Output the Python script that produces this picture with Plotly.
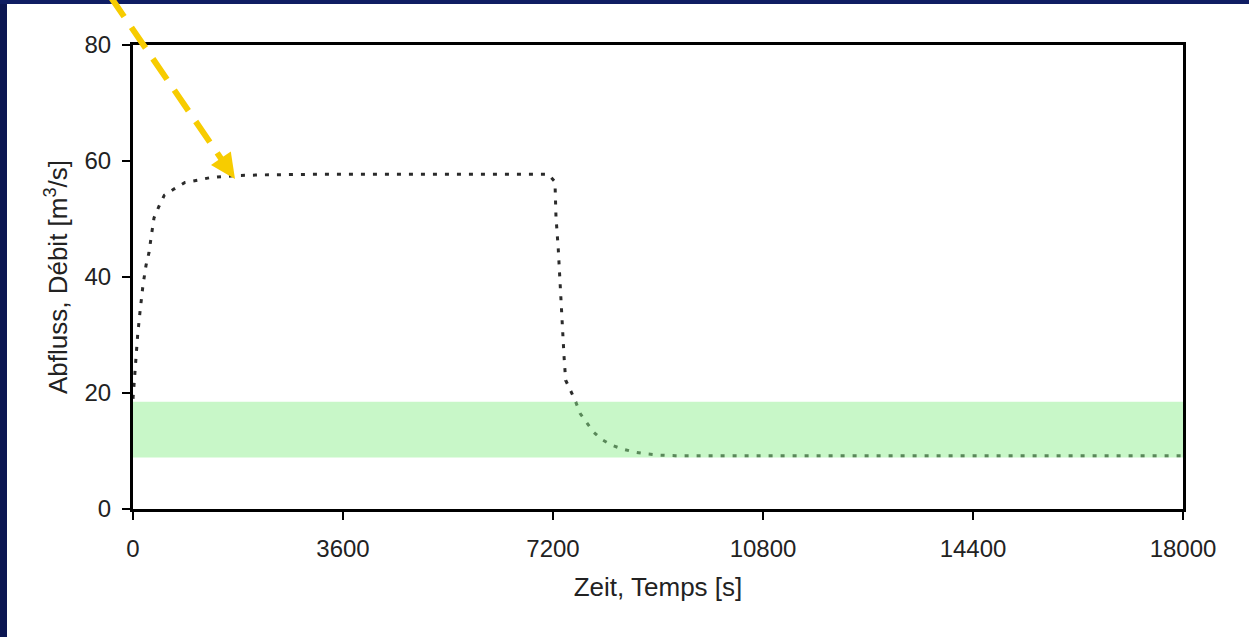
import plotly.graph_objects as go

# ---- data ----
time_s = [0, 40, 80, 120, 170, 223, 274, 303, 331, 360, 446, 537, 708, 891, 1109,
          1307, 1520, 1800, 2200, 2600, 3000, 4000, 5000, 6000, 7000, 7120,
          7234, 7251, 7291, 7320, 7337, 7360, 7389, 7417, 7491, 7577, 7663, 7777,
          7891, 8034, 8206, 8405, 8606, 8806, 9006, 9300, 10000, 12000, 14000, 16000, 18000]
flow_m3s = [19.0, 25.0, 30.0, 34.0, 38.5, 42.0, 44.2, 46.3, 48.2, 50.2, 52.2, 54.1, 55.2, 56.3, 56.7,
            57.1, 57.3, 57.5, 57.6, 57.7, 57.7, 57.7, 57.7, 57.7, 57.7, 57.7,
            56.4, 50.4, 44.7, 39.0, 34.3, 30.3, 26.3, 22.2, 20.5, 18.8, 16.5, 14.8,
            13.3, 12.0, 11.0, 10.3, 9.8, 9.5, 9.3, 9.2, 9.2, 9.2, 9.2, 9.2, 9.2]
band_low = 8.9
band_high = 18.5
x_ticks = [0, 3600, 7200, 10800, 14400, 18000]
y_ticks = [0, 20, 40, 60, 80]

# ---- geometry helpers (plot area in pixels) ----
W, H = 1249, 637
L, R, T, B = 133, 66, 45, 128
PW, PH = W - L - R, H - T - B


def px(x):
    return (x - L) / PW


def py(y):
    return (H - B - y) / PH


fig = go.Figure()
fig.add_trace(go.Scatter(
    x=time_s, y=flow_m3s, mode="lines",
    line=dict(color="#2b2b2b", width=3, dash="4px,8px"),
    showlegend=False, hoverinfo="skip",
))

shapes = []
# slide-like dark frame strips
shapes.append(dict(type="rect", xref="paper", yref="paper", x0=px(0), x1=px(7), y0=py(H), y1=py(0),
                   fillcolor="#0b1652", line=dict(width=0), layer="below"))
shapes.append(dict(type="rect", xref="paper", yref="paper", x0=px(0), x1=px(W), y0=py(4), y1=py(0),
                   fillcolor="#0f1d63", line=dict(width=0), layer="below"))
# green band
shapes.append(dict(type="rect", xref="paper", yref="y", x0=0, x1=1, y0=band_low, y1=band_high,
                   fillcolor="rgba(140,238,140,0.48)", line=dict(width=0), layer="above"))
# yellow dashed arrow
tail = (110, -4)
tip = (235, 179)
dx, dy = tip[0] - tail[0], tip[1] - tail[1]
n = (dx ** 2 + dy ** 2) ** 0.5
ux, uy = dx / n, dy / n
hl, hw = 25, 12
bx, by = tip[0] - hl * ux, tip[1] - hl * uy
shapes.append(dict(type="line", xref="paper", yref="paper",
                   x0=px(tail[0]), y0=py(tail[1]), x1=px(bx + 3 * ux), y1=py(by + 3 * uy),
                   line=dict(color="#f7cc00", width=6, dash="25px,13px"), layer="above"))
c1 = (bx + hw * uy, by - hw * ux)
c2 = (bx - hw * uy, by + hw * ux)
path = (f"M {px(tip[0])},{py(tip[1])} L {px(c1[0])},{py(c1[1])} "
        f"L {px(c2[0])},{py(c2[1])} Z")
shapes.append(dict(type="path", xref="paper", yref="paper", path=path,
                   fillcolor="#f7cc00", line=dict(width=0), layer="above"))

font_family = "Liberation Sans, Arial, sans-serif"
fig.update_layout(
    width=W, height=H,
    margin=dict(l=L, r=R, t=T, b=B, pad=0),
    paper_bgcolor="white", plot_bgcolor="white",
    shapes=shapes,
    font=dict(family=font_family, color="#222222"),
    xaxis=dict(range=[0, 18000], tickvals=x_ticks, ticktext=[str(v) for v in x_ticks],
               showgrid=False, zeroline=False, showline=True, linecolor="black", linewidth=3,
               mirror=True, ticks="outside", ticklen=8, tickwidth=1.5, tickcolor="black",
               tickfont=dict(size=24, color="#222222"), ticklabelstandoff=8,
               title=dict(text="Zeit, Temps [s]", font=dict(size=26, color="#222222"), standoff=18)),
    yaxis=dict(range=[0, 80], tickvals=y_ticks, ticktext=[str(v) for v in y_ticks],
               showgrid=False, zeroline=False, showline=True, linecolor="black", linewidth=3,
               mirror=True, ticks="outside", ticklen=8, tickwidth=1.5, tickcolor="black",
               tickfont=dict(size=24, color="#222222"), ticklabelstandoff=6,
               title=dict(text="Abfluss, Débit [m<sup>3</sup>/s]", font=dict(size=26, color="#222222"),
                          standoff=10)),
)

fig.write_html(
    "out.html",
    config={"displayModeBar": False},
    post_script="document.body.style.margin='0';document.body.style.padding='0';"
                "document.documentElement.style.overflow='hidden';",
)
